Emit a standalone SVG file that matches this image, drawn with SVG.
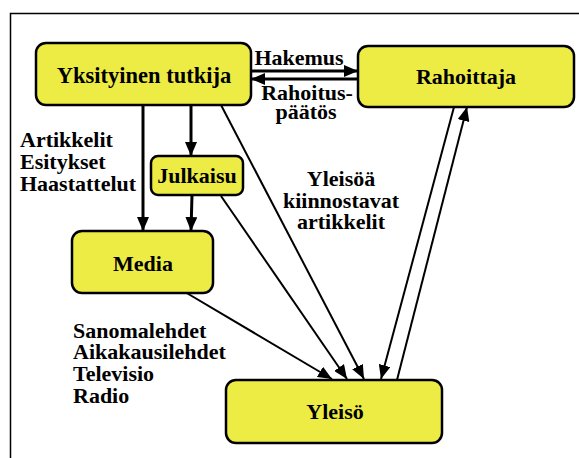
<svg xmlns="http://www.w3.org/2000/svg" width="579" height="458" viewBox="0 0 579 458">
<style>
.box{fill:#EDEC45;stroke:#000;stroke-width:2.5}
text{font-family:'Liberation Serif','Times New Roman','DejaVu Serif',serif;font-weight:bold;font-size:22px;fill:#000}
.c{text-anchor:middle}
.ln{stroke:#000;fill:none;stroke-width:2}
.th{stroke:#000;fill:none;stroke-width:3}
</style>
<defs>
<marker id="ah" markerUnits="userSpaceOnUse" markerWidth="14" markerHeight="12" viewBox="0 0 14 12" refX="14" refY="6" orient="auto">
<path d="M0,0 L14,6 L0,12 Z" fill="#000"/>
</marker>
</defs>
<rect width="579" height="458" fill="#fff"/>
<path d="M10.5,458 V13.5 H579" fill="none" stroke="#000" stroke-width="1.5"/>
<g id="connectors">
<line class="th" x1="251" y1="71" x2="358" y2="71" marker-end="url(#ah)"/>
<line class="th" x1="358" y1="79" x2="251" y2="79" marker-end="url(#ah)"/>
<line class="th" x1="143" y1="105" x2="143" y2="231" marker-end="url(#ah)"/>
<line class="th" x1="191" y1="105" x2="191" y2="156" marker-end="url(#ah)"/>
<line class="th" x1="192" y1="195" x2="191" y2="231" marker-end="url(#ah)"/>
<line class="ln" x1="185" y1="292" x2="332" y2="379" marker-end="url(#ah)"/>
<line class="ln" x1="221" y1="196" x2="347" y2="379" marker-end="url(#ah)"/>
<line class="ln" x1="221" y1="105" x2="364" y2="379" marker-end="url(#ah)"/>
<line class="ln" x1="454" y1="107" x2="381" y2="379" marker-end="url(#ah)"/>
<line class="ln" x1="397" y1="380" x2="467" y2="107" marker-end="url(#ah)"/>
</g>
<g id="yksityinen">
<rect class="box" x="36" y="43" width="215" height="62" rx="10"/>
<text class="c" x="144" y="83" style="font-size:22.5px">Yksityinen tutkija</text>
</g>
<g id="rahoittaja">
<rect class="box" x="358" y="46" width="216" height="61" rx="10"/>
<text class="c" x="466" y="84">Rahoittaja</text>
</g>
<g id="julkaisu">
<rect class="box" x="151" y="156" width="92" height="39" rx="7"/>
<text class="c" x="197" y="183">Julkaisu</text>
</g>
<g id="media">
<rect class="box" x="72" y="231" width="141" height="62" rx="10"/>
<text class="c" x="143" y="271">Media</text>
</g>
<g id="yleiso">
<rect class="box" x="226" y="380" width="216" height="63" rx="10"/>
<text class="c" x="335" y="419">Yleisö</text>
</g>
<g id="labels">
<text class="c" x="299" y="65">Hakemus</text>
<text class="c" x="307" y="100">Rahoitus-</text>
<text class="c" x="306" y="119">päätös</text>
<text x="20" y="147">Artikkelit</text>
<text x="20" y="169">Esitykset</text>
<text x="20" y="191">Haastattelut</text>
<text class="c" x="341" y="186">Yleisöä</text>
<text class="c" x="341" y="208">kiinnostavat</text>
<text class="c" x="341" y="229">artikkelit</text>
<text x="73" y="338">Sanomalehdet</text>
<text x="73" y="359">Aikakausilehdet</text>
<text x="73" y="381">Televisio</text>
<text x="73" y="403">Radio</text>
</g>
</svg>
